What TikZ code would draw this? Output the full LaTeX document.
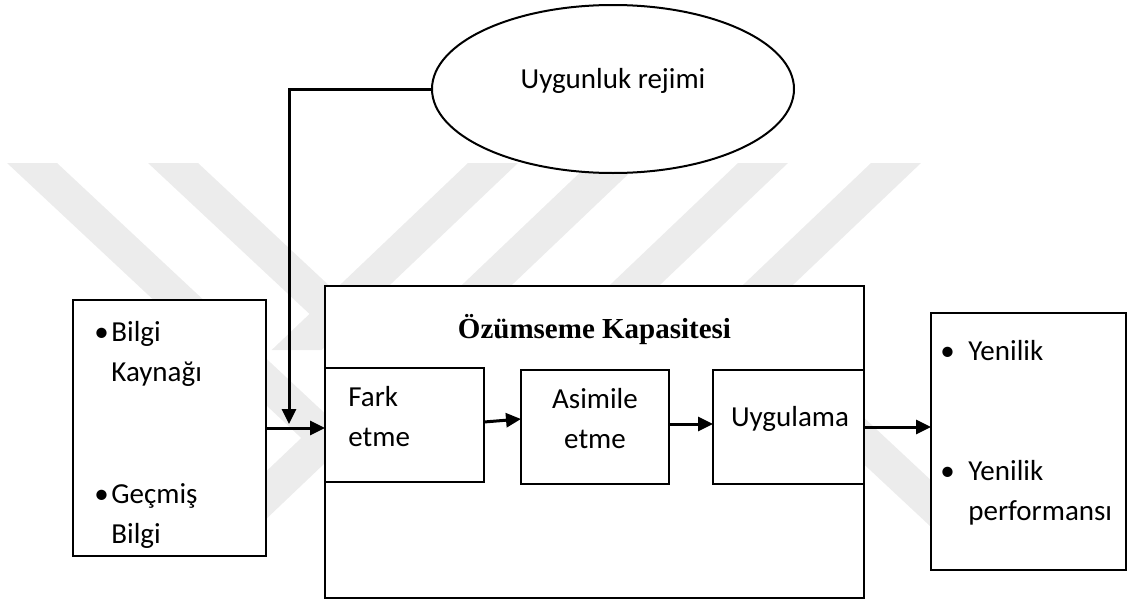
\documentclass[tikz,border=0pt]{standalone}
\usepackage{fontspec}
\setmainfont{Carlito}
\newfontfamily\headfont{Liberation Serif}
\usetikzlibrary{arrows.meta,shapes.geometric}

\definecolor{markgray}{gray}{0.925}
\newcommand{\bul}[1]{\makebox[#1][l]{\textbullet}}

\tikzset{
	box/.style={draw,line width=1pt,fill=white,inner sep=0pt,outer sep=0pt},
	flow/.style={line width=1.5pt,-{Triangle[length=7.5pt,width=7pt]}},
	txt/.style={inner sep=0pt,align=left,font=\fontsize{14.5}{20}\selectfont},
}

\begin{document}
\begin{tikzpicture}[x=0.5pt,y=-0.5pt]
	\useasboundingbox (0,0) rectangle (1129,605);

	% grey stripes in the background
	\foreach \xa/\sl/\yb in {7/1.07/560,148/1.07/350,468/-1.05/350,590/-1.05/540,738/-1.05/320,871/-1.05/320}
		\fill[markgray] (\xa,163) -- ++(50,0) -- ++({\sl*(\yb-163)},{\yb-163}) -- ++(-50,0) -- cycle;
	\fill[markgray] (688,300) -- ++(50,0) -- ++(257,240) -- ++(-50,0) -- cycle;

	\node[box,ellipse,minimum width=181pt,minimum height=84pt] (regime) at (613,89) {};
	\node[txt,anchor=base] (regimetxt) at (613,88) {Uygunluk rejimi};

	\node[box,minimum width=96.5pt,minimum height=128pt] (source) at (169.5,428) {};
	\node[box,minimum width=269.5pt,minimum height=156pt] (acap) at (594.5,442) {};
	\node[box,minimum width=79.5pt,minimum height=57pt] (fark) at (404.5,425) {};
	\node[box,minimum width=74pt,minimum height=57pt] (asim) at (595,427) {};
	\node[box,minimum width=75.5pt,minimum height=57pt] (uyg) at (788.5,427) {};
	\node[box,minimum width=97.5pt,minimum height=128.5pt] (out) at (1028.5,441.5) {};

	% texts (base = baseline of the last line)
	\node[txt,anchor=base,font=\headfont\bfseries\fontsize{14.5}{20}\selectfont] (title) at (594.5,338) {Özümseme Kapasitesi};
	\node[txt,anchor=base west] (sourcetxt) at (94,543) {\bul{8.5pt}Bilgi\\\hspace*{8.5pt}Kaynağı\\[41pt]\bul{8.5pt}Geçmiş\\\hspace*{8.5pt}Bilgi};
	\node[txt,anchor=base west] (farktxt) at (348,446) {Fark\\etme};
	\node[txt,anchor=base,align=center] (asimtxt) at (595,448) {Asimile\\etme};
	\node[txt,anchor=base] (uygtxt) at (790,426) {Uygulama};
	\node[txt,anchor=base west] (outtxt) at (940,520) {\bul{14pt}Yenilik\\[40pt]\bul{14pt}Yenilik\\\hspace*{14pt}performansı};

	% arrows
	\coordinate (drop) at (289,424);
	\draw[flow] (regime.west) -| (drop);
	\draw[flow] (source.east) -- (source.east -| fark.west);
	\draw[flow] ([yshift=1.5pt]fark.east) -- ([yshift=4pt]asim.west);
	\draw[flow] ([yshift=1.5pt]asim.east) -- ([yshift=1.5pt]uyg.west);
	\draw[flow] (uyg.east) -- (uyg.east -| out.west);
\end{tikzpicture}
\end{document}
